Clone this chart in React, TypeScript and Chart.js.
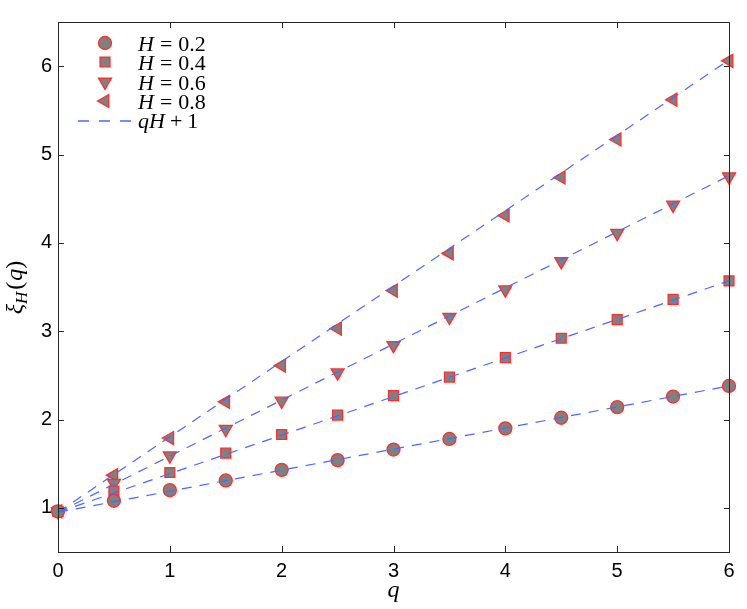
import React, { useEffect, useRef } from "react";
import { Chart, registerables } from "chart.js";

Chart.register(...registerables);

// ---- data ----
const qValues = [0, 0.5, 1, 1.5, 2, 2.5, 3, 3.5, 4, 4.5, 5, 5.5, 6];
const xiH02 = [0.96, 1.08, 1.2, 1.31, 1.43, 1.54, 1.66, 1.78, 1.9, 2.02, 2.14, 2.26, 2.38];
const xiH04 = [0.96, 1.19, 1.4, 1.62, 1.83, 2.05, 2.27, 2.48, 2.7, 2.92, 3.13, 3.36, 3.57];
const xiH06 = [0.96, 1.28, 1.59, 1.89, 2.21, 2.53, 2.84, 3.16, 3.47, 3.79, 4.11, 4.43, 4.75];
const xiH08 = [0.96, 1.37, 1.79, 2.2, 2.61, 3.03, 3.46, 3.88, 4.31, 4.74, 5.17, 5.62, 6.06];

const fitQ = [0, 6];
const fitH02 = [0.95, 2.38];
const fitH04 = [0.95, 3.57];
const fitH06 = [0.95, 4.76];
const fitH08 = [0.95, 6.07];

const hLabels = ["0.2", "0.4", "0.6", "0.8"];
const xTicks = [0, 1, 2, 3, 4, 5, 6];
const yTicks = [1, 2, 3, 4, 5, 6];

// ---- styles ----
const MARKER_FILL = "#808080";
const MARKER_EDGE = "#ff2d2d";
const LINE_COLOR = "#4a68ff";
const AXIS_COLOR = "#262626";
const SERIF = "'Liberation Serif', 'DejaVu Serif', serif";
const SANS = "'Liberation Sans', Arial, sans-serif";
const DASH = [10, 8];

const markers = [
  { style: "circle", r: 6.5, rot: 0 },
  { style: "rect", r: 7, rot: 0 },
  { style: "triangle", r: 7.5, rot: 180 },
  { style: "triangle", r: 7.5, rot: 270 },
];

function drawMarker(ctx: CanvasRenderingContext2D, m: any, x: number, y: number) {
  ctx.save();
  ctx.setLineDash([]);
  ctx.fillStyle = MARKER_FILL;
  ctx.strokeStyle = MARKER_EDGE;
  ctx.lineWidth = 1.3;
  ctx.beginPath();
  if (m.style === "circle") {
    ctx.arc(x, y, m.r, 0, Math.PI * 2);
  } else if (m.style === "rect") {
    const s = Math.SQRT1_2 * m.r;
    ctx.rect(x - s, y - s, 2 * s, 2 * s);
  } else {
    let a = (m.rot * Math.PI) / 180;
    ctx.moveTo(x + Math.sin(a) * m.r, y - Math.cos(a) * m.r);
    a += (2 * Math.PI) / 3;
    ctx.lineTo(x + Math.sin(a) * m.r, y - Math.cos(a) * m.r);
    a += (2 * Math.PI) / 3;
    ctx.lineTo(x + Math.sin(a) * m.r, y - Math.cos(a) * m.r);
    ctx.closePath();
  }
  ctx.fill();
  ctx.stroke();
  ctx.restore();
}

function drawFrame(chart: any) {
  const ctx = chart.ctx as CanvasRenderingContext2D;
  const { left, right, top, bottom } = chart.chartArea;
  const xs = chart.scales.x;
  const ys = chart.scales.y;
  const L = Math.round(left);
  const R = Math.round(right);
  const T = Math.round(top);
  const B = Math.round(bottom);
  const w = 1;
  const tl = 6;
  ctx.save();
  ctx.globalAlpha = 1;
  ctx.fillStyle = AXIS_COLOR;
  // box
  ctx.fillRect(L, T, R - L + w, w); // top
  ctx.fillRect(L, B, R - L + w, w); // bottom
  ctx.fillRect(L, T, w, B - T + w); // left
  ctx.fillRect(R, T, w, B - T + w); // right
  // ticks
  xTicks.forEach((v) => {
    const px = Math.round(xs.getPixelForValue(v));
    ctx.fillRect(px, B - tl, w, tl);
    ctx.fillRect(px, T, w, tl);
  });
  yTicks.forEach((v) => {
    const py = Math.round(ys.getPixelForValue(v));
    ctx.fillRect(L, py, tl, w);
    ctx.fillRect(R - tl + 1, py, tl, w);
  });
  ctx.restore();
}

const framePlugin = {
  id: "frame",
  afterDraw(chart: any) {
    drawFrame(chart);
    const ctx = chart.ctx as CanvasRenderingContext2D;
    const { left, right, top, bottom } = chart.chartArea;
    ctx.save();
    ctx.setLineDash([]);
    ctx.fillStyle = "#000";
    ctx.textBaseline = "alphabetic";
    ctx.textAlign = "left";
    const fs = 22;
    const italic = `italic ${fs}px ${SERIF}`;
    const upright = `${fs}px ${SERIF}`;
    // legend
    const rows = [43, 62, 82, 101];
    const mx = 105;
    const tx = 138;
    rows.forEach((ry, i) => {
      drawMarker(ctx, markers[i], mx, ry);
      let x = tx;
      const by = ry + 7.5;
      ctx.font = italic;
      ctx.fillText("H", x, by);
      x += ctx.measureText("H").width + 6;
      ctx.font = upright;
      ctx.fillText("=", x, by);
      x += ctx.measureText("=").width + 6;
      ctx.fillText(hLabels[i], x, by);
    });
    // dashed line entry
    const ly = 121;
    ctx.save();
    ctx.strokeStyle = LINE_COLOR;
    ctx.lineWidth = 1.5;
    ctx.setLineDash([11, 10]);
    ctx.beginPath();
    ctx.moveTo(78, ly);
    ctx.lineTo(133, ly);
    ctx.stroke();
    ctx.restore();
    {
      let x = tx;
      const by = ly + 7;
      ctx.font = italic;
      ctx.fillText("qH", x, by);
      x += ctx.measureText("qH").width + 5;
      ctx.font = upright;
      ctx.fillText("+", x, by);
      x += ctx.measureText("+").width + 5;
      ctx.fillText("1", x, by);
    }
    // x title
    ctx.font = `italic 24px ${SERIF}`;
    ctx.textAlign = "center";
    ctx.fillText("q", (left + right) / 2, 597);
    // y title
    ctx.save();
    ctx.translate(22, (top + bottom) / 2);
    ctx.rotate(-Math.PI / 2);
    ctx.textAlign = "left";
    const big = `italic 24px ${SERIF}`;
    const sub = `italic 17px ${SERIF}`;
    const up = `24px ${SERIF}`;
    const parts = [
      { t: "\u03be", f: big, dy: 0, gap: 0 },
      { t: "H", f: sub, dy: 5, gap: 2 },
      { t: "(", f: up, dy: 0, gap: 1 },
      { t: "q", f: big, dy: 0, gap: 0 },
      { t: ")", f: up, dy: 0, gap: 1 },
    ];
    let total = 0;
    parts.forEach((p) => {
      ctx.font = p.f;
      total += ctx.measureText(p.t).width + p.gap;
    });
    let x = -total / 2;
    parts.forEach((p) => {
      ctx.font = p.f;
      ctx.fillText(p.t, x, p.dy);
      x += ctx.measureText(p.t).width + p.gap;
    });
    ctx.restore();
    ctx.restore();
  },
};

export default function App() {
  const ref = useRef<HTMLCanvasElement | null>(null);
  useEffect(() => {
    if (!ref.current) return;
    const series = [xiH02, xiH04, xiH06, xiH08];
    const fits = [fitH02, fitH04, fitH06, fitH08];
    const lineSets = fits.map((f, i) => ({
      type: "line" as const,
      label: i === 0 ? "qH + 1" : "",
      data: fitQ.map((q, k) => ({ x: q, y: f[k] })),
      borderColor: LINE_COLOR,
      borderWidth: 1.2,
      borderDash: DASH,
      pointRadius: 0,
      fill: false,
      order: 0,
      clip: false as any,
    }));
    const markerSets = series.map((s, i) => ({
      type: "scatter" as const,
      label: "H = " + hLabels[i],
      data: qValues.map((q, k) => ({ x: q, y: s[k] })),
      pointStyle: markers[i].style as any,
      pointRadius: markers[i].r,
      pointRotation: markers[i].rot,
      backgroundColor: MARKER_FILL,
      borderColor: MARKER_EDGE,
      borderWidth: 1.3,
      order: 1,
      clip: false as any,
    }));
    const chart = new Chart(ref.current, {
      type: "scatter",
      data: { datasets: [...lineSets, ...markerSets] as any },
      options: {
        animation: false,
        responsive: false,
        devicePixelRatio: 1,
        layout: { padding: { top: 22, right: 18, left: 0, bottom: 0 } },
        plugins: { legend: { display: false }, tooltip: { enabled: false } },
        scales: {
          x: {
            type: "linear",
            min: 0,
            max: 6,
            grid: { display: false, drawTicks: false },
            border: { display: false },
            ticks: { color: "#000", font: { family: SANS, size: 20 }, padding: 7 },
            afterBuildTicks: (s: any) => {
              s.ticks = xTicks.map((v) => ({ value: v }));
            },
            afterFit: (s: any) => {
              s.height = 57;
            },
          },
          y: {
            type: "linear",
            min: 0.5,
            max: 6.5,
            grid: { display: false, drawTicks: false },
            border: { display: false },
            ticks: { color: "#000", font: { family: SANS, size: 20 }, padding: 6 },
            afterBuildTicks: (s: any) => {
              s.ticks = yTicks.map((v) => ({ value: v }));
            },
            afterFit: (s: any) => {
              s.width = 58;
            },
          },
        },
      },
      plugins: [framePlugin],
    });
    return () => chart.destroy();
  }, []);
  return (
    <div style={{ position: "fixed", left: 0, top: 0, width: 747, height: 609, background: "#fff" }}>
      <canvas ref={ref} width={747} height={609} style={{ display: "block" }} />
    </div>
  );
}
